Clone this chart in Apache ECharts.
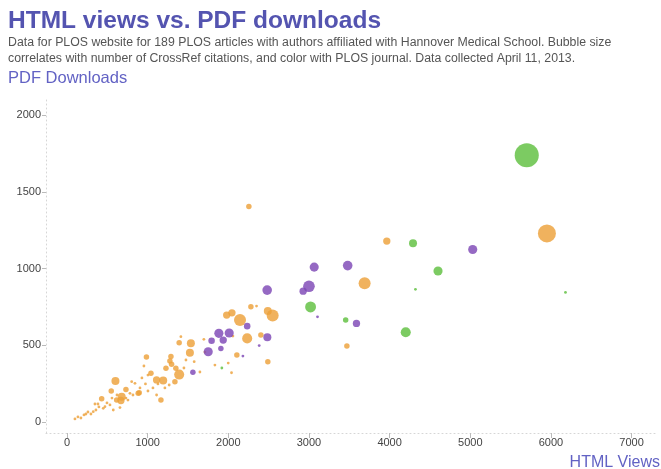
<!DOCTYPE html>
<html>
<head>
<meta charset="utf-8">
<script src="https://cdn.jsdelivr.net/npm/echarts@6/dist/echarts.min.js"></script>
<style>
html,body{margin:0;padding:0;background:#fff;}
#chart{width:661px;height:469px;}
</style>
</head>
<body>
<div id="chart"></div>
<script>
// [HTML views, PDF downloads, CrossRef citations]
const orangeArticles = [
  [5950,1230,36],[3965,1180,3],[3690,905,13],[3470,495,1],[2255,1405,1],
  [2145,665,13],[2550,695,13],[2490,723,4],[1980,697,3],[2045,712,3],
  [2280,751,1],[2350,756,0],[2234,545,8],[2404,567,1],[2057,560,0],
  [2106,437,1],[2490,393,1],[1999,384,0],[2040,321,0],[1536,513,4],
  [1524,451,4],[1391,517,1],[1412,556,0],[1697,539,0],[1577,393,0],
  [1289,427,1],[1276,397,1],[1297,376,1],[1227,350,1],[1350,350,1],
  [1391,309,8],[1338,263,1],[1267,241,0],[1193,270,4],[1111,274,3],
  [985,423,1],[954,365,0],[1041,317,1],[973,248,0],[896,191,1],
  [1165,143,1],[1111,176,0],[601,267,4],[549,202,1],[678,165,4],
  [669,140,3],[616,143,1],[731,212,1],[781,187,0],[802,263,0],
  [843,252,0],[883,187,1],[430,152,1],[657,94,0],[471,100,0],
  [533,111,0],[326,67,0],[235,52,0],[173,26,0],[450,89,0],
  [574,78,0],[384,117,0],[731,156,0],[99,20,0],[136,33,0],
  [211,46,0],[260,65,0],[297,52,0],[359,78,0],[396,98,0],
  [496,124,0],[347,117,0],[558,156,0],[620,176,0],[756,143,0],
  [818,176,0],[905,222,0],[1004,202,0],[1066,222,0],[1128,248,0],
  [1004,306,0],[929,287,0],[1214,222,0],[1450,352,0],[1475,404,0],
  [1710,456,0],[1834,371,0],[1648,326,0]
];
const purpleArticles = [
  [5030,1125,6],[3065,1010,6],[3480,1020,7],[3000,885,12],[2928,853,3],
  [3106,686,0],[3589,643,3],[2482,860,7],[2234,625,2],[1883,578,6],
  [2011,580,6],[1937,534,3],[1793,530,2],[1751,458,6],[1908,479,1],
  [2181,430,0],[2383,498,0],[2484,552,4],[1561,324,1]
];
const greenArticles = [
  [5700,1740,71],[6180,845,0],[4290,1165,4],[4600,985,6],[4320,865,0],
  [4200,585,8],[3020,750,10],[3455,665,1],[1920,352,0]
];
const xTickValues = [0,1000,2000,3000,4000,5000,6000,7000];
const yTickValues = [0,500,1000,1500,2000];

const chart = echarts.init(document.getElementById('chart'), null, {renderer:'canvas'});
const sizeOf = d => d[2] === 0 ? 2.8 : 2 * (1.5 + 1.25 * Math.sqrt(d[2]));
function axisLine(){
  return {show:true, onZero:false, lineStyle:{color:'#d6d6d6', type:[1,3], width:1}};
}
function series(name, data, color){
  return {
    name, type:'scatter', data, symbolSize: sizeOf,
    itemStyle:{color, opacity:0.82}, emphasis:{disabled:true}, animation:false
  };
}
const plain = v => String(v);
chart.setOption({
  animation:false,
  title:[
    {text:'HTML views vs. PDF downloads', left:8, top:9, padding:0,
     textStyle:{fontFamily:'Liberation Sans', fontSize:24.5, fontWeight:'bold', color:'#5454b0'}},
    {text:'Data for PLOS website for 189 PLOS articles with authors affiliated with Hannover Medical School. Bubble size\ncorrelates with number of CrossRef citations, and color with PLOS journal. Data collected April 11, 2013.',
     left:8, top:35, padding:0,
     textStyle:{fontFamily:'Liberation Sans', fontSize:12.3, fontWeight:'normal', color:'#555', lineHeight:16}},
    {text:'PDF Downloads', left:8, top:70, padding:0,
     textStyle:{fontFamily:'Liberation Sans', fontSize:16.5, fontWeight:'normal', color:'#6262c4'}},
    {text:'HTML Views', right:1, top:455, padding:0,
     textStyle:{fontFamily:'Liberation Sans', fontSize:16, fontWeight:'normal', color:'#6262c4'}}
  ],
  grid:{left:46, right:6, top:100, bottom:36},
  xAxis:{
    type:'value', min:-260, max:7290,
    axisLine:axisLine(), splitLine:{show:false},
    axisTick:{show:true, customValues:xTickValues, length:5, lineStyle:{color:'#bbb'}},
    axisLabel:{customValues:xTickValues, formatter:plain, color:'#444', fontSize:11, fontFamily:'Liberation Sans', margin:4}
  },
  yAxis:{
    type:'value', min:-72, max:2100,
    axisLine:axisLine(), splitLine:{show:false},
    axisTick:{show:true, customValues:yTickValues, length:4, lineStyle:{color:'#bbb'}},
    axisLabel:{customValues:yTickValues, formatter:plain, color:'#444', fontSize:11, fontFamily:'Liberation Sans', margin:5}
  },
  series:[
    series('Orange journal', orangeArticles, '#eda13a'),
    series('Purple journal', purpleArticles, '#7e48b6'),
    series('Green journal', greenArticles, '#5fbf3f')
  ]
});
</script>
</body>
</html>
